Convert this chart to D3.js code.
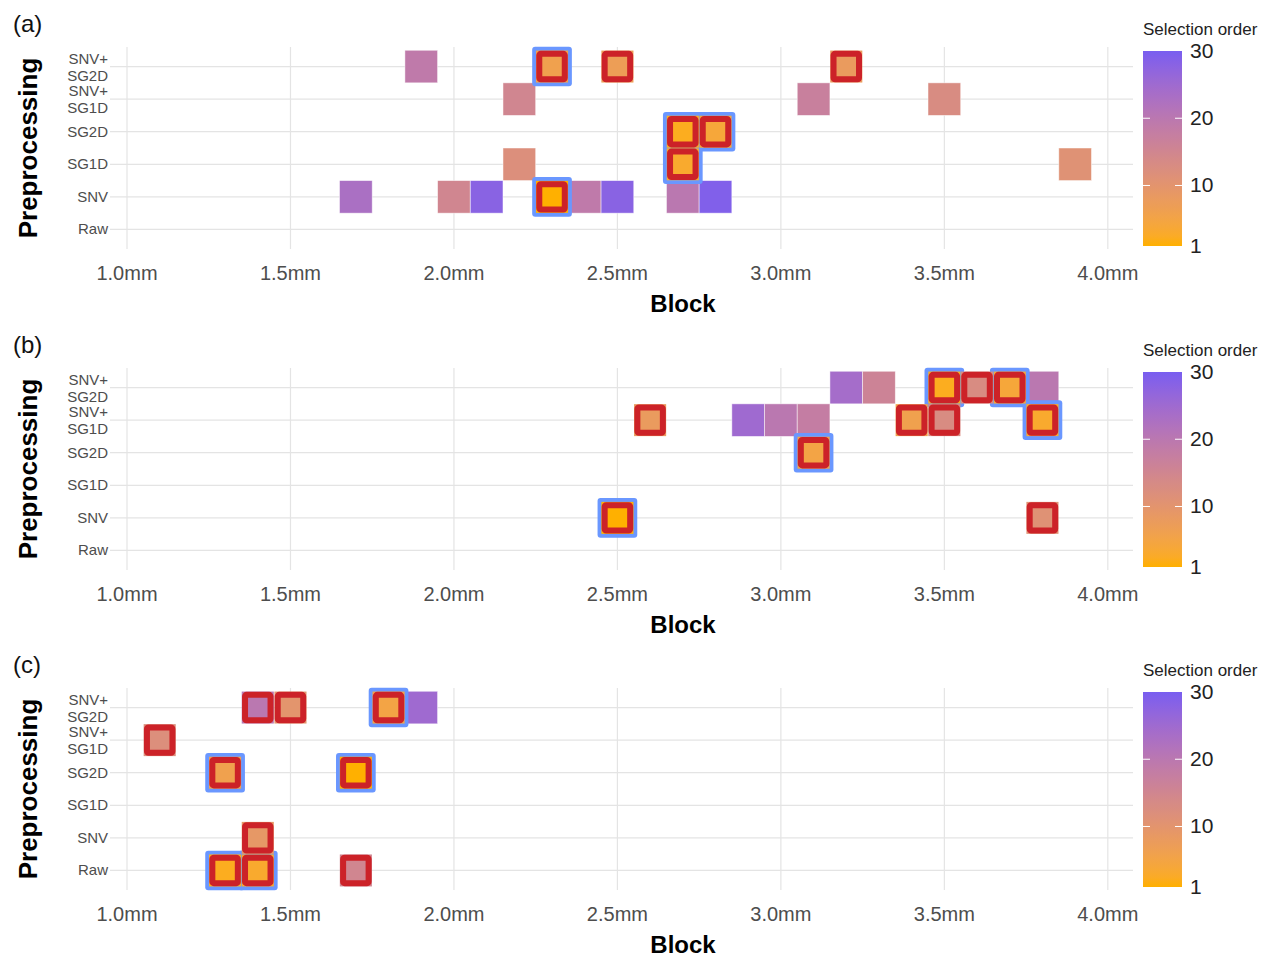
<!DOCTYPE html>
<html>
<head>
<meta charset="utf-8">
<script src="https://cdn.jsdelivr.net/npm/d3@7"></script>
<style>
  html, body { margin: 0; padding: 0; background: #fff; }
  svg { display: block; font-family: "Liberation Sans", Arial, sans-serif; }
</style>
</head>
<body>
<svg id="chart" width="1262" height="957"></svg>
<script>
// ---------- data ----------
const preprocessing = ["Raw", "SNV", "SG1D", "SG2D", "SNV+SG1D", "SNV+SG2D"];
const xTicks = [1.0, 1.5, 2.0, 2.5, 3.0, 3.5, 4.0];
const legendTicks = [1, 10, 20, 30];
const panelTags = ["(a)", "(b)", "(c)"];

// panel (a)
const aBlock = [1.9, 2.3, 2.5, 3.2, 2.2, 3.1, 3.5, 2.7, 2.8, 2.2, 2.7, 3.9, 1.7, 2.0, 2.1, 2.3, 2.4, 2.5, 2.7, 2.8];
const aPrep  = ["SNV+SG2D","SNV+SG2D","SNV+SG2D","SNV+SG2D","SNV+SG1D","SNV+SG1D","SNV+SG1D","SG2D","SG2D","SG1D","SG1D","SG1D","SNV","SNV","SNV","SNV","SNV","SNV","SNV","SNV"];
const aOrder = [19, 6, 7, 8, 15, 17, 13, 2, 4, 12, 3, 11, 23, 15, 28, 1, 19, 28, 20, 29];
const aRed   = [0, 1, 1, 1, 0, 0, 0, 1, 1, 0, 1, 0, 0, 0, 0, 1, 0, 0, 0, 0];
const aBlue  = [0, 1, 0, 0, 0, 0, 0, 1, 1, 0, 1, 0, 0, 0, 0, 1, 0, 0, 0, 0];

// panel (b)
const bBlock = [3.2, 3.3, 3.5, 3.6, 3.7, 3.8, 2.6, 2.9, 3.0, 3.1, 3.4, 3.5, 3.8, 3.1, 2.5, 3.8];
const bPrep  = ["SNV+SG2D","SNV+SG2D","SNV+SG2D","SNV+SG2D","SNV+SG2D","SNV+SG2D","SNV+SG1D","SNV+SG1D","SNV+SG1D","SNV+SG1D","SNV+SG1D","SNV+SG1D","SNV+SG1D","SG2D","SNV","SNV"];
const bOrder = [24, 16, 2, 13, 4, 20, 8, 25, 20, 18, 6, 13, 3, 5, 1, 11];
const bRed   = [0, 0, 1, 1, 1, 0, 1, 0, 0, 0, 1, 1, 1, 1, 1, 1];
const bBlue  = [0, 0, 1, 0, 1, 0, 0, 0, 0, 0, 0, 0, 1, 1, 1, 0];

// panel (c)
const cBlock = [1.4, 1.5, 1.8, 1.9, 1.1, 1.3, 1.7, 1.4, 1.3, 1.4, 1.7];
const cPrep  = ["SNV+SG2D","SNV+SG2D","SNV+SG2D","SNV+SG2D","SNV+SG1D","SG2D","SG2D","SNV","Raw","Raw","Raw"];
const cOrder = [20, 10, 5, 25, 12, 6, 1, 9, 2, 3, 15];
const cRed   = [1, 1, 1, 0, 1, 1, 1, 1, 1, 1, 1];
const cBlue  = [0, 0, 1, 0, 0, 1, 1, 0, 1, 1, 0];

// ---------- build ----------
function rowsOf(block, prep, order, red, blue) {
  return block.map((b, i) => ({ block: b, prep: prep[i], order: order[i], red: !!red[i], blue: !!blue[i] }));
}
const panels = [
  rowsOf(aBlock, aPrep, aOrder, aRed, aBlue),
  rowsOf(bBlock, bPrep, bOrder, bRed, bBlue),
  rowsOf(cBlock, cPrep, cOrder, cRed, cBlue)
];

const svg = d3.select("#chart");
const panelOffsets = [0, 321, 641];
const plotLeft = 110, plotRight = 1133, plotTop = 47, plotBottom = 249;

const x = d3.scaleLinear().domain([0.948, 4.077]).range([plotLeft, plotRight]);
const color = d3.scaleLinear().domain([1, 30]).range(["#FFB000", "#785EF0"]).interpolate(d3.interpolateLab);

const RED = "#CC2228", BLUE = "#6A97FF", GRID = "#E4E4E4", TXT = "#4D4D4D";

// gradient definition
const defs = svg.append("defs");
const grad = defs.append("linearGradient").attr("id", "cbar").attr("x1", 0).attr("y1", 1).attr("x2", 0).attr("y2", 0);
d3.range(0, 1.0001, 0.05).forEach(t => {
  grad.append("stop").attr("offset", t).attr("stop-color", color(1 + t * 29));
});

panels.forEach((data, pi) => {
  const off = panelOffsets[pi];
  const g = svg.append("g").attr("transform", `translate(0,${off})`);
  const y = d3.scaleLinear().domain([0.4, preprocessing.length + 0.6]).range([plotBottom, plotTop]);
  const yOf = p => y(preprocessing.indexOf(p) + 1);
  const hw = (x(1.1) - x(1.0)) / 2;
  const hh = (y(1) - y(2)) / 2;

  // gridlines
  g.append("g").selectAll("line").data(preprocessing).join("line")
    .attr("x1", plotLeft).attr("x2", plotRight)
    .attr("y1", (d, i) => y(i + 1)).attr("y2", (d, i) => y(i + 1))
    .attr("stroke", GRID).attr("stroke-width", 1.2);
  g.append("g").selectAll("line").data(xTicks).join("line")
    .attr("x1", d => x(d)).attr("x2", d => x(d))
    .attr("y1", plotTop).attr("y2", plotBottom)
    .attr("stroke", GRID).attr("stroke-width", 1.2);

  // x tick labels
  g.append("g").selectAll("text").data(xTicks).join("text")
    .attr("x", d => x(d)).attr("y", 280)
    .attr("text-anchor", "middle").attr("fill", TXT)
    .style("font-size", "20px")
    .text(d => d3.format(".1f")(d) + "mm");

  // y tick labels
  const yl = g.append("g");
  preprocessing.forEach((p, i) => {
    const yy = y(i + 1);
    const t = yl.append("text").attr("text-anchor", "end").attr("fill", TXT).style("font-size", "15px");
    if (p.includes("+")) {
      const parts = p.split("+");
      t.append("tspan").attr("x", 108).attr("y", yy - 3).text(parts[0] + "+");
      t.append("tspan").attr("x", 108).attr("y", yy + 14).text(parts[1]);
    } else {
      t.attr("x", 108).attr("y", yy + 5).text(p);
    }
  });

  // titles
  g.append("text").attr("x", 683).attr("y", 312).attr("text-anchor", "middle")
    .style("font-size", "24px").style("font-weight", "bold").attr("fill", "#000").text("Block");
  g.append("text").attr("transform", `translate(37,${(plotTop + plotBottom) / 2}) rotate(-90)`)
    .attr("text-anchor", "middle").style("font-size", "26px").style("font-weight", "bold").attr("fill", "#000")
    .text("Preprocessing");
  g.append("text").attr("x", 13).attr("y", 32).style("font-size", "24px").attr("fill", "#111").text(panelTags[pi]);

  // tiles: plain fills
  g.append("g").selectAll("rect").data(data.filter(d => !d.red)).join("rect")
    .attr("x", d => x(d.block) - hw).attr("y", d => yOf(d.prep) - hh)
    .attr("width", hw * 2).attr("height", hh * 2)
    .attr("fill", d => color(d.order)).attr("stroke", "#fff").attr("stroke-opacity", 0.6).attr("stroke-width", 0.8);

  // blue highlight
  const e = 3.5;
  g.append("g").selectAll("rect").data(data.filter(d => d.blue)).join("rect")
    .attr("x", d => x(d.block) - hw - e).attr("y", d => yOf(d.prep) - hh - e)
    .attr("width", hw * 2 + 2 * e).attr("height", hh * 2 + 2 * e)
    .attr("rx", 3).attr("fill", BLUE);

  // red tiles
  const rg = g.append("g").selectAll("g").data(data.filter(d => d.red)).join("g");
  rg.append("rect")
    .attr("x", d => x(d.block) - hw + 0.3).attr("y", d => yOf(d.prep) - hh + 0.3)
    .attr("width", hw * 2 - 0.6).attr("height", hh * 2 - 0.6)
    .attr("fill", d => color(d.order));
  const ins = 3.6, sw = 6;
  rg.append("rect")
    .attr("x", d => x(d.block) - hw + ins).attr("y", d => yOf(d.prep) - hh + ins)
    .attr("width", hw * 2 - 2 * ins).attr("height", hh * 2 - 2 * ins)
    .attr("rx", 1.5).attr("fill", "none").attr("stroke", RED).attr("stroke-width", sw);

  // legend
  const ly = d3.scaleLinear().domain([1, 30]).range([246, 51]);
  const lx0 = 1143, lx1 = 1182;
  g.append("text").attr("x", 1143).attr("y", 35).style("font-size", "17px").attr("fill", "#222").text("Selection order");
  g.append("rect").attr("x", lx0).attr("y", ly(30)).attr("width", lx1 - lx0).attr("height", ly(1) - ly(30))
    .attr("fill", "url(#cbar)");
  legendTicks.forEach(v => {
    if (v !== 1 && v !== 30) {
      g.append("line").attr("x1", lx0).attr("x2", lx0 + 7).attr("y1", ly(v)).attr("y2", ly(v)).attr("stroke", "#fff").attr("stroke-width", 1);
      g.append("line").attr("x1", lx1 - 7).attr("x2", lx1).attr("y1", ly(v)).attr("y2", ly(v)).attr("stroke", "#fff").attr("stroke-width", 1);
    }
    g.append("text").attr("x", 1190).attr("y", ly(v) + 7).style("font-size", "21px").attr("fill", "#222").text(v);
  });
});
</script>
</body>
</html>
